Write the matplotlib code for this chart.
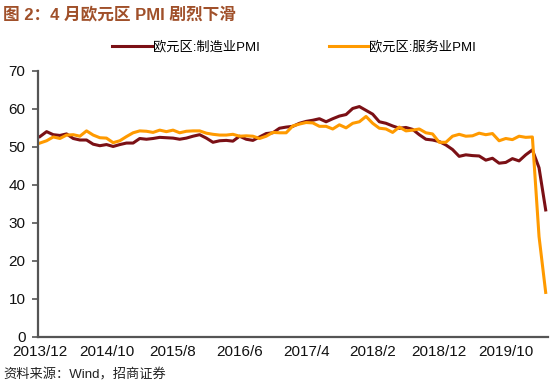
import matplotlib
matplotlib.use("Agg")
import matplotlib.pyplot as plt
import numpy as np

plt.rcParams['font.family'] = ['Liberation Sans', 'Noto Sans CJK SC', 'DejaVu Sans']

start_year, start_month = 2013, 12
manufacturing = [52.7,
    54.0, 53.2, 53.0, 53.4, 52.2, 51.8, 51.8, 50.7, 50.3, 50.6, 50.1, 50.6,
    51.0, 51.0, 52.2, 52.0, 52.2, 52.5, 52.4, 52.3, 52.0, 52.3, 52.8, 53.2,
    52.3, 51.2, 51.6, 51.7, 51.5, 52.8, 52.0, 51.7, 52.6, 53.5, 53.7, 54.9,
    55.2, 55.4, 56.2, 56.7, 57.0, 57.4, 56.6, 57.4, 58.1, 58.5, 60.1, 60.6,
    59.6, 58.6, 56.6, 56.2, 55.5, 54.9, 55.1, 54.6, 53.2, 52.0, 51.8, 51.4,
    50.5, 49.3, 47.5, 47.9, 47.7, 47.6, 46.5, 47.0, 45.7, 45.9, 46.9, 46.3,
    47.9, 49.2, 44.5, 33.4]
services = [51.0,
    51.6, 52.6, 52.2, 53.1, 53.2, 52.8, 54.2, 53.1, 52.4, 52.3, 51.1, 51.6,
    52.7, 53.7, 54.2, 54.1, 53.8, 54.4, 54.0, 54.4, 53.7, 54.1, 54.2, 54.2,
    53.6, 53.3, 53.1, 53.1, 53.3, 52.8, 52.9, 52.8, 52.2, 52.8, 53.8, 53.7,
    53.7, 55.5, 56.0, 56.4, 56.3, 55.4, 55.4, 54.7, 55.8, 55.0, 56.2, 56.6,
    58.0, 56.2, 54.9, 54.7, 53.8, 55.2, 54.2, 54.4, 54.7, 53.7, 53.4, 51.2,
    51.2, 52.8, 53.3, 52.8, 52.9, 53.6, 53.2, 53.5, 51.6, 52.2, 51.9, 52.8,
    52.5, 52.6, 26.4, 11.7]

labels = []
for i in range(len(manufacturing)):
    m = start_month - 1 + i
    labels.append(f"{start_year + m // 12}/{m % 12 + 1}")
x = np.arange(len(manufacturing))

fig = plt.figure(figsize=(5.5, 3.85), dpi=100)
ax = fig.add_axes([0.069, 0.125, 0.928, 0.691])

l1, = ax.plot(x, manufacturing, color='#7B1015', lw=2.2, label='欧元区:制造业PMI')
l2, = ax.plot(x, services, color='#FF9A00', lw=2.2, label='欧元区:服务业PMI')

ax.set_ylim(0, 70)
ax.set_yticks(range(0, 71, 10))
ax.set_xlim(-0.3, 76.4)
ticks = x[::10]
ax.set_xticks(ticks)
ax.set_xticklabels([labels[i] for i in ticks])

for s in ['top', 'right']:
    ax.spines[s].set_visible(False)
for s in ['left', 'bottom']:
    ax.spines[s].set_color('#555555')
    ax.spines[s].set_linewidth(1.6)
ax.tick_params(axis='y', length=4, width=1.2, color='#555555', labelsize=11, pad=5,
               labelcolor='#111111')
ax.tick_params(axis='x', length=0, labelsize=11, pad=6, labelcolor='#111111')

fig.text(0.006, 0.962, '图 2：4 月欧元区 PMI 剧烈下滑', color='#A0502A',
         fontsize=12, fontweight='bold', va='center', ha='left')
fig.text(0.006, 0.008, '资料来源：Wind，招商证券', color='#222222',
         fontsize=9.5, va='bottom', ha='left')

fig.legend(handles=[l1, l2], loc='center', bbox_to_anchor=(0.535, 0.878), ncol=2,
           frameon=False, fontsize=9.5, handlelength=3.0, handletextpad=0.1,
           columnspacing=5.2)

fig.savefig('out.png', dpi=100)
